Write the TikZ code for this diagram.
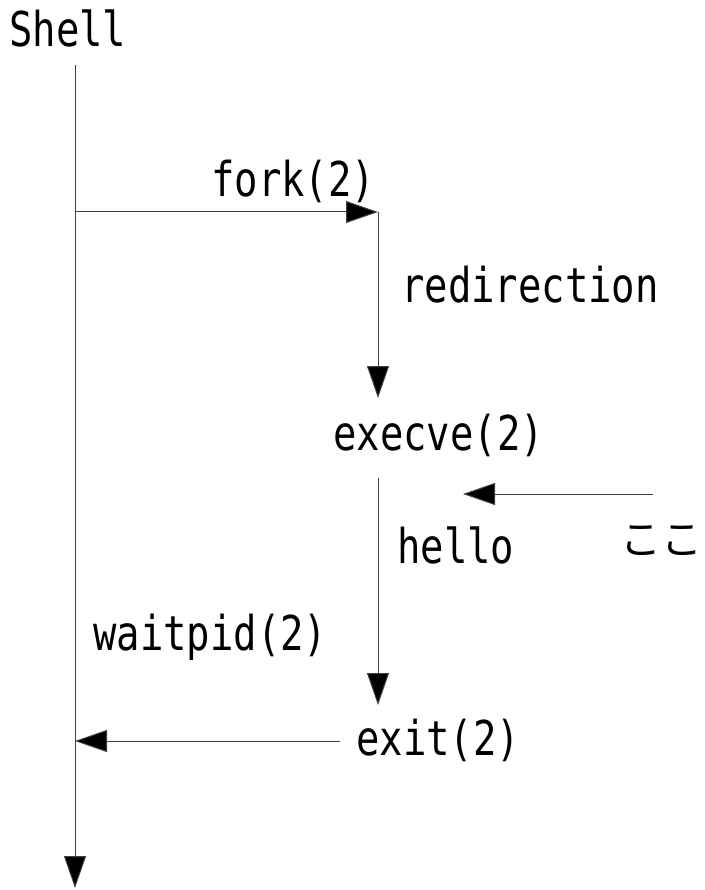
\documentclass[tikz,border=0pt]{standalone}
\usepackage{fontspec}
\usetikzlibrary{arrows.meta}
\newfontfamily\labelfont[FakeStretch=0.81]{DejaVu Sans Mono}
\newfontfamily\jpfont{Noto Sans CJK JP}
\tikzset{
  flow/.style={draw=black!75, line width=1pt},
  flowarrow/.style={flow, -{Triangle[length=32pt,width=22pt,fill=black]}},
  lbl/.style={anchor=base west, inner sep=0pt, font=\labelfont\fontsize{48}{56}\selectfont},
}
\begin{document}
\begin{tikzpicture}[x=1pt,y=-1pt]
  \useasboundingbox (0,0) rectangle (704,890);
  % process time lines
  \coordinate (shellTop) at (75,65);
  \coordinate (shellEnd) at (75,888);
  \coordinate (forkFrom) at (75,212);
  \coordinate (child) at (378,212);
  \coordinate (execIn) at (378,398);
  \coordinate (helloTop) at (378,478);
  \coordinate (helloEnd) at (378,705);
  \coordinate (hereFrom) at (653,494);
  \coordinate (hereTip) at (463,494);
  \coordinate (exitFrom) at (340,741);
  \coordinate (waitTip) at (75,741);

  % labels
  \node[lbl] (shell) at (9,47) {Shell};
  \node[lbl] (fork) at (211,197) {fork(2)};
  \node[lbl] (redir) at (401,302) {redirection};
  \node[lbl] (execve) at (333,450) {execve(2)};
  \node[lbl] (hello) at (397,563) {hello};
  \node[anchor=base west, inner sep=0pt, font=\jpfont\fontsize{41}{50}\selectfont] (here) at (620,554) {ここ};
  \node[lbl] (waitpid) at (93,650) {waitpid(2)};
  \node[lbl] (exit) at (356,755) {exit(2)};

  % connectors
  \draw[flowarrow] (shellTop) -- (shellEnd);
  \draw[flowarrow] (forkFrom) -- (child);
  \draw[flowarrow] (child) -- (execIn);
  \draw[flowarrow] (helloTop) -- (helloEnd);
  \draw[flowarrow] (hereFrom) -- (hereTip);
  \draw[flowarrow] (exitFrom) -- (waitTip);
\end{tikzpicture}
\end{document}
